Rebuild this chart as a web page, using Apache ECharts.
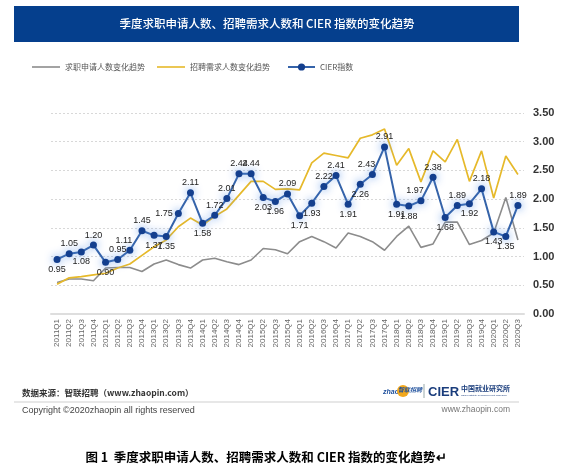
<!DOCTYPE html>
<html>
<head>
<meta charset="utf-8">
<script src="https://cdn.jsdelivr.net/npm/echarts@6/dist/echarts.min.js"></script>
<style>
html,body{margin:0;padding:0;background:#fff;}
#chart{width:572px;height:468px;}
</style>
</head>
<body>
<div id="chart"></div>
<script>
var categories = ['2011Q1','2011Q2','2011Q3','2011Q4','2012Q1','2012Q2','2012Q3','2012Q4',
  '2013Q1','2013Q2','2013Q3','2013Q4','2014Q1','2014Q2','2014Q3','2014Q4',
  '2015Q1','2015Q2','2015Q3','2015Q4','2016Q1','2016Q2','2016Q3','2016Q4',
  '2017Q1','2017Q2','2017Q3','2017Q4','2018Q1','2018Q2','2018Q3','2018Q4',
  '2019Q1','2019Q2','2019Q3','2019Q4','2020Q1','2020Q2','2020Q3'];

var applicants = [0.55,0.61,0.61,0.58,0.80,0.81,0.81,0.74,0.87,0.94,0.86,0.80,0.94,0.97,0.91,0.86,
  0.94,1.14,1.12,1.05,1.26,1.35,1.26,1.15,1.41,1.35,1.26,1.11,1.35,1.53,1.16,1.22,
  1.60,1.60,1.21,1.28,1.41,2.03,1.29];

var demand = [0.52,0.63,0.65,0.68,0.71,0.80,0.87,1.02,1.17,1.29,1.52,1.67,1.55,1.70,1.83,2.07,
  2.31,2.31,2.17,2.18,2.16,2.63,2.80,2.76,2.72,3.06,3.12,3.22,2.59,2.88,2.30,2.84,
  2.65,3.04,2.31,2.84,2.02,2.75,2.43];

var cier = [0.95,1.05,1.08,1.20,0.90,0.95,1.11,1.45,1.37,1.35,1.75,2.11,1.58,1.72,2.01,2.44,
  2.44,2.03,1.96,2.09,1.71,1.93,2.22,2.41,1.91,2.26,2.43,2.91,1.91,1.88,1.97,2.38,
  1.68,1.89,1.92,2.18,1.43,1.35,1.89];

var yTicks = [0, 0.5, 1, 1.5, 2, 2.5, 3, 3.5];

// label placement for each CIER point (t = top, b = bottom, l = left, tl = top-left)
var cierLabelSide = ['b','t','b','t','b','t','tl','t','b','b','l','t','b','t','t','t',
  't','b','b','t','b','b','t','t','b','b','tl','t','b','b','tl','t',
  'b','t','b','t','b','b','t'];

var sideMap = {
  t: {position: 'top'},
  b: {position: 'bottom'},
  l: {position: 'left'},
  tl: {position: 'top', offset: [-6, 0]}
};

var chart = echarts.init(document.getElementById('chart'), null, {renderer:'canvas'});

var cierData = cier.map(function(v, i){
  return {value: v, label: sideMap[cierLabelSide[i]]};
});

var option = {
  backgroundColor: '#fff',
  animation: false,
  textStyle: {fontFamily: 'Liberation Sans, Arial, sans-serif'},
  legend: [
    {
      left: 27, top: 58,
      icon: 'rect',
      itemWidth: 28, itemHeight: 1.6, itemGap: 12,
      textStyle: {fontSize: 8, color: '#555', fontFamily: 'Noto Sans CJK SC'},
      data: ['求职申请人数变化趋势', '招聘需求人数变化趋势']
    },
    {
      left: 282, top: 58,
      itemWidth: 27, itemHeight: 9,
      textStyle: {fontSize: 8, color: '#555', fontFamily: 'Noto Sans CJK SC'},
      data: ['CIER指数']
    }
  ],
  grid: {left: 51, right: 48, top: 113, bottom: 154},
  xAxis: {
    type: 'category',
    data: categories,
    boundaryGap: true,
    axisLine: {show: true, lineStyle: {color: '#dedede', width: 2}},
    axisTick: {show: false},
    axisLabel: {rotate: 90, interval: 0, fontSize: 8, color: '#666', margin: 5}
  },
  yAxis: {
    type: 'value',
    position: 'right',
    min: yTicks[0], max: yTicks[yTicks.length-1], interval: 0.5,
    axisLine: {show: false},
    axisTick: {show: false},
    axisLabel: {fontSize: 11, fontWeight: 'bold', color: '#333', margin: 9,
      formatter: function(v){ return v.toFixed(2); }},
    splitLine: {show: true, lineStyle: {color: '#d8d8d8', type: [2,2], width: 1}}
  },
  series: [
    {
      name: '求职申请人数变化趋势', type: 'line', data: applicants,
      symbol: 'none', lineStyle: {color: '#8c8c8c', width: 1.6}, itemStyle: {color: '#8c8c8c'}, z: 2
    },
    {
      name: '招聘需求人数变化趋势', type: 'line', data: demand,
      symbol: 'none', lineStyle: {color: '#e6b92a', width: 1.7}, itemStyle: {color: '#e6b92a'}, z: 3
    },
    {
      name: 'CIER指数', type: 'line', data: cierData,
      symbol: 'circle', symbolSize: 7,
      lineStyle: {color: '#3563a9', width: 2},
      itemStyle: {color: '#143f8e', shadowBlur: 9, shadowColor: 'rgba(80,140,230,0.9)'},
      label: {show: true, fontSize: 9, color: '#222', distance: 2,
        formatter: function(p){ return p.value.toFixed(2); }},
      z: 5
    }
  ],
  graphic: [
    {type: 'rect', shape: {x: 14, y: 6, width: 505, height: 36}, style: {fill: '#053f8d'}},
    {type: 'text', x: 267, y: 24, style: {text: '季度求职申请人数、招聘需求人数和 CIER 指数的变化趋势',
      fill: '#fff', font: '500 11.5px "Noto Sans CJK SC"', textAlign: 'center', textVerticalAlign: 'middle'}},
    {type: 'text', x: 22, y: 393, style: {text: '数据来源：智联招聘（www.zhaopin.com）',
      fill: '#333', font: 'bold 8.5px "Noto Sans CJK SC"', textVerticalAlign: 'middle'}},
    {type: 'text', x: 383, y: 392, style: {text: 'zhao', fill: '#1d4f9c', font: 'italic bold 7px "Liberation Sans"', textVerticalAlign: 'middle'}},
    {type: 'circle', shape: {cx: 403, cy: 391, r: 6}, style: {fill: '#f2a81d'}},
    {type: 'text', x: 398, y: 390, style: {text: '智联招聘', fill: '#1d4f9c', font: 'italic bold 6px "Noto Sans CJK SC"', textVerticalAlign: 'middle'}},
    {type: 'line', shape: {x1: 424, y1: 384, x2: 424, y2: 398}, style: {stroke: '#9aa', lineWidth: 1}},
    {type: 'text', x: 428, y: 392, style: {text: 'CIER', fill: '#1a3d7c', font: 'bold 13px "Liberation Sans"', textVerticalAlign: 'middle'}},
    {type: 'text', x: 461, y: 388, style: {text: '中国就业研究所', fill: '#1a3d7c', font: 'bold 7px "Noto Sans CJK SC"', textVerticalAlign: 'middle'}},
    {type: 'text', x: 461, y: 395, style: {text: 'China Institute for Employment Research', fill: '#1a3d7c', font: '2.5px "Liberation Sans"', textVerticalAlign: 'middle'}},
    {type: 'line', shape: {x1: 14, y1: 402, x2: 519, y2: 402}, style: {stroke: '#cfcfcf', lineWidth: 1}},
    {type: 'text', x: 22, y: 411, style: {text: 'Copyright ©2020zhaopin all rights reserved',
      fill: '#444', font: '9px "Liberation Sans"', textVerticalAlign: 'middle'}},
    {type: 'text', x: 510, y: 410, style: {text: 'www.zhaopin.com',
      fill: '#777', font: '8.5px "Liberation Sans"', textAlign: 'right', textVerticalAlign: 'middle'}},
    {type: 'text', x: 266, y: 457, style: {text: '图 1  季度求职申请人数、招聘需求人数和 CIER 指数的变化趋势↵',
      fill: '#000', font: 'bold 12.5px "Noto Sans CJK SC"', textAlign: 'center', textVerticalAlign: 'middle'}}
  ]
};
chart.setOption(option);
</script>
</body>
</html>
